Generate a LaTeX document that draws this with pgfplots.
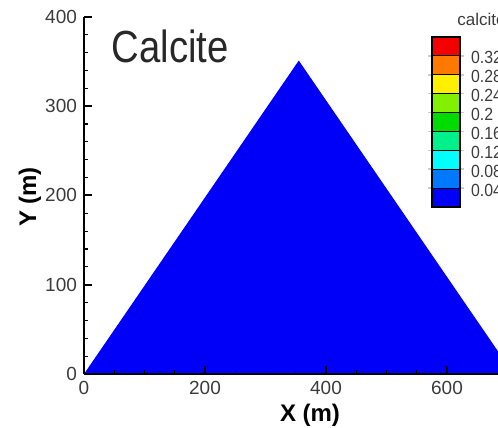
\documentclass[border=0pt]{standalone}
\usepackage{pgfplots}
\pgfplotsset{compat=1.18}
\usepackage{fontspec}
\setmainfont{Liberation Sans}
\newfontfamily\narrowfont[FakeStretch=0.85]{Liberation Sans}
\newfontfamily\cbfont[FakeStretch=0.9]{Liberation Sans}
\definecolor{tpblue}{RGB}{0,0,250}
\definecolor{tickgray}{RGB}{60,60,60}
\begin{document}
\begin{tikzpicture}
\useasboundingbox (-42pt,-27pt) rectangle (207pt,187pt);
\clip (-42pt,-27pt) rectangle (207pt,187pt);
\begin{axis}[
  anchor=origin, at={(0pt,0pt)},
  disabledatascaling,
  x=0.3025pt, y=0.4465pt,
  xmin=0, xmax=720, ymin=0, ymax=400,
  axis x line=bottom, axis y line=left,
  axis line style={-, line width=1.3pt},
  xtick={0,200,400,600}, ytick={0,100,200,300,400},
  minor x tick num=3, minor y tick num=4,
  tick align=inside,
  major tick length=4pt, minor tick length=2pt,
  every tick/.style={black, line width=0.9pt},
  minor tick style={line width=0.6pt},
  tick label style={font=\fontsize{9.5}{11}\selectfont, text=tickgray},
  /pgf/number format/assume math mode=true,
  clip=false,
  axis on top,
]
\addplot[fill=tpblue, draw=none] coordinates {(0,0) (355,351) (710,0)} -- cycle;
\node[anchor=base west, inner sep=0pt, font=\narrowfont\fontsize{22.5}{26}\selectfont, text={rgb,255:red,40;green,40;blue,40}] at (axis cs:45,349) {Calcite};
\end{axis}
\node[anchor=base, font=\bfseries\fontsize{12}{14}\selectfont] at (113pt,-23.5pt) {X (m)};
\node[rotate=90, font=\bfseries\fontsize{12}{14}\selectfont] at (-27pt,88.5pt) {Y (m)};
\begin{axis}[
  anchor=south west, at={(174pt,83.5pt)},
  scale only axis, width=14pt, height=85pt,
  xmin=0, xmax=1, ymin=0, ymax=0.36,
  xtick=\empty,
  ytick={0.04,0.08,0.12,0.16,0.2,0.24,0.28,0.32},
  yticklabels={0.04,0.08,0.12,0.16,0.2,0.24,0.28,0.32},
  yticklabel pos=right,
  tick align=outside, major tick length=2pt,
  every tick/.style={gray!40, line width=0.8pt},
  yticklabel style={font=\cbfont\fontsize{8.8}{10}\selectfont, text=tickgray, xshift=0pt, yshift=-1pt},
  /pgf/number format/assume math mode=true,
  axis line style={black, line width=0.8pt},
  clip=false,
  axis on top,
]
\addplot[fill={rgb,255:red,0;green,0;blue,250}, draw=black, line width=0.5pt] coordinates {(0,0) (1,0) (1,0.04) (0,0.04)} -- cycle;
\addplot[fill={rgb,255:red,0;green,120;blue,255}, draw=black, line width=0.5pt] coordinates {(0,0.04) (1,0.04) (1,0.08) (0,0.08)} -- cycle;
\addplot[fill={rgb,255:red,0;green,255;blue,255}, draw=black, line width=0.5pt] coordinates {(0,0.08) (1,0.08) (1,0.12) (0,0.12)} -- cycle;
\addplot[fill={rgb,255:red,0;green,240;blue,140}, draw=black, line width=0.5pt] coordinates {(0,0.12) (1,0.12) (1,0.16) (0,0.16)} -- cycle;
\addplot[fill={rgb,255:red,0;green,220;blue,0}, draw=black, line width=0.5pt] coordinates {(0,0.16) (1,0.16) (1,0.2) (0,0.2)} -- cycle;
\addplot[fill={rgb,255:red,130;green,240;blue,0}, draw=black, line width=0.5pt] coordinates {(0,0.2) (1,0.2) (1,0.24) (0,0.24)} -- cycle;
\addplot[fill={rgb,255:red,255;green,240;blue,0}, draw=black, line width=0.5pt] coordinates {(0,0.24) (1,0.24) (1,0.28) (0,0.28)} -- cycle;
\addplot[fill={rgb,255:red,255;green,120;blue,0}, draw=black, line width=0.5pt] coordinates {(0,0.28) (1,0.28) (1,0.32) (0,0.32)} -- cycle;
\addplot[fill={rgb,255:red,245;green,0;blue,0}, draw=black, line width=0.5pt] coordinates {(0,0.32) (1,0.32) (1,0.36) (0,0.36)} -- cycle;
\end{axis}
\node[anchor=base west, inner sep=0pt, font=\fontsize{8.5}{10}\selectfont, text=tickgray] at (186.5pt,174pt) {calcite};
\end{tikzpicture}
\end{document}
